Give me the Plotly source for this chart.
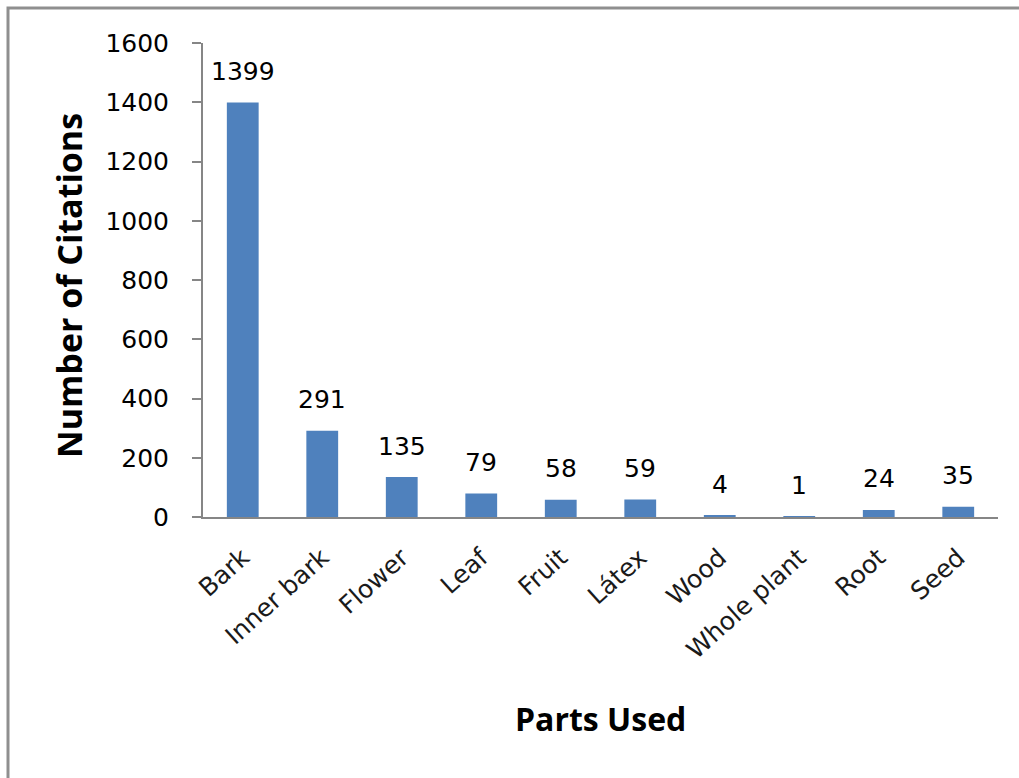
import plotly.graph_objects as go

# Citations per plant part
parts = ["Bark", "Inner bark", "Flower", "Leaf", "Fruit", "Látex",
         "Wood", "Whole plant", "Root", "Seed"]
citations = [1399, 291, 135, 79, 58, 59, 4, 1, 24, 35]
y_ticks = [0, 200, 400, 600, 800, 1000, 1200, 1400, 1600]

W, H = 1019, 778
ML, MR, MT, MB = 203, 21, 43, 261
PW, PH = W - ML - MR, H - MT - MB


def px_to_paper(x, y):
    return (x - ML) / PW, (H - MB - y) / PH


AXIS_GREY = "#868686"
BAR_BLUE = "#4F81BD"
TICK_FONT = dict(family="DejaVu Sans", size=25, color="#000000")
CAT_FONT = dict(family="DejaVu Sans", size=25, color="#1a1a1a")
TITLE_FONT = dict(family="Open Sans", size=34, color="#000000")

fig = go.Figure(
    go.Bar(
        x=parts,
        y=citations,
        marker=dict(color=BAR_BLUE, line=dict(width=0)),
        hoverinfo="skip",
    )
)

# value labels floating above each bar
for name, val in zip(parts, citations):
    fig.add_annotation(
        x=name, y=val, text=str(val), showarrow=False,
        yanchor="middle", yshift=31, font=TICK_FONT,
    )

# axis titles
tx, ty = px_to_paper(69, 286)
fig.add_annotation(
    x=tx, y=ty, xref="paper", yref="paper", text="<b>Number of Citations</b>",
    textangle=-90, showarrow=False, font=TITLE_FONT,
    xanchor="center", yanchor="middle",
)
tx, ty = px_to_paper(600, 718)
fig.add_annotation(
    x=tx, y=ty, xref="paper", yref="paper", text="<b>Parts Used</b>",
    showarrow=False, font=dict(TITLE_FONT, size=32),
    xanchor="center", yanchor="middle",
)

# chart frame (top and left edges)
x0, y0 = px_to_paper(8, H + 10)
x1, y1 = px_to_paper(8, 8)
x2, _ = px_to_paper(W + 10, 8)
fig.add_shape(
    type="path", xref="paper", yref="paper",
    path=f"M {x0} {y0} L {x1} {y1} L {x2} {y1}",
    line=dict(color="#8f8f8f", width=3),
)

fig.update_layout(
    width=W, height=H,
    margin=dict(l=ML, r=MR, t=MT, b=MB),
    paper_bgcolor="white", plot_bgcolor="white",
    bargap=0.6, showlegend=False,
    font=TICK_FONT,
)
fig.update_xaxes(
    showline=True, linecolor=AXIS_GREY, linewidth=2,
    ticks="", tickangle=-42, tickfont=CAT_FONT,
    showgrid=False, zeroline=False, ticklabelstandoff=14,
)
fig.update_yaxes(
    range=[0, 1600], tickvals=y_ticks, tickfont=TICK_FONT,
    showline=True, linecolor=AXIS_GREY, linewidth=2,
    ticks="outside", ticklen=9, tickwidth=2, tickcolor=AXIS_GREY,
    showgrid=False, zeroline=False, ticklabelstandoff=18,
)

fig.write_html("out.html")
